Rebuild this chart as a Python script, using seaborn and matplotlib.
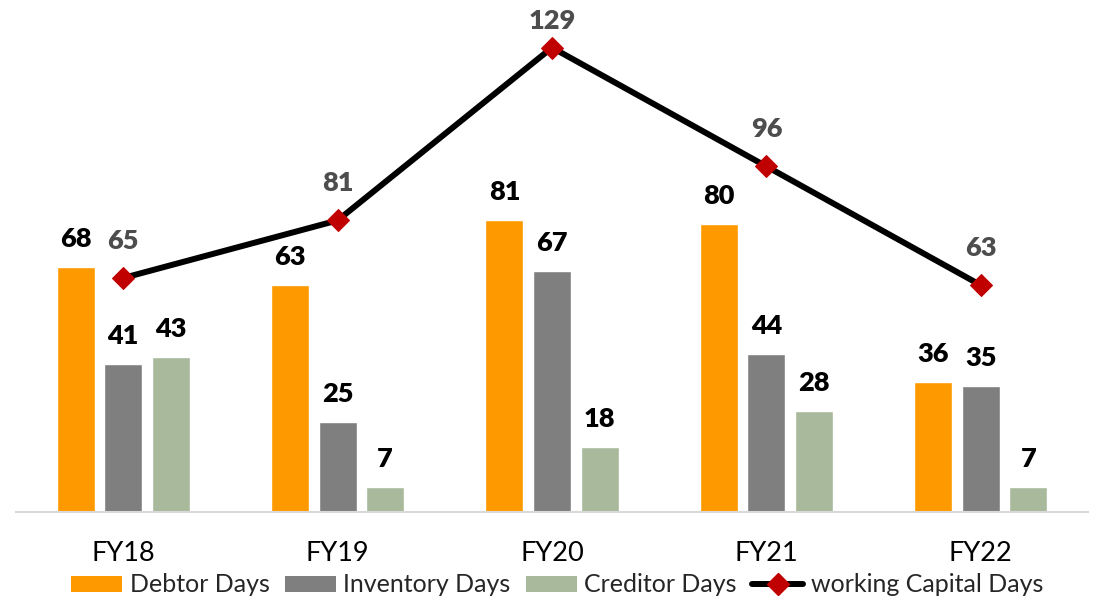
import numpy as np
import pandas as pd
import matplotlib
matplotlib.use("Agg")
import matplotlib.pyplot as plt
from matplotlib.patches import Patch
from matplotlib.lines import Line2D
import seaborn as sns

categories = ["FY18", "FY19", "FY20", "FY21", "FY22"]
debtor_days = [68, 63, 81, 80, 36]
inventory_days = [41, 25, 67, 44, 35]
creditor_days = [43, 7, 18, 28, 7]
working_capital_days = [65, 81, 129, 96, 63]
series_names = ["Debtor Days", "Inventory Days", "Creditor Days"]
line_name = "working Capital Days"

colors = ["#FF9900", "#7F7F7F", "#A9B99C"]
line_color = "black"
marker_color = "#C00000"

sns.set_theme(style="white")
plt.rcParams["font.family"] = ["Lato", "DejaVu Sans"]

df = pd.DataFrame({
    "cat": categories * 3,
    "series": sum([[n] * len(categories) for n in series_names], []),
    "value": debtor_days + inventory_days + creditor_days,
})

fig = plt.figure(figsize=(10.95, 6.02), dpi=100)
ax = fig.add_axes([16 / 1095, 90 / 602, 1072 / 1095, 512 / 602])

sns.barplot(data=df, x="cat", y="value", hue="series", order=categories,
            hue_order=series_names, palette=colors, width=0.665, gap=0.2,
            saturation=1, legend=False, ax=ax, errorbar=None)

xpos = np.arange(len(categories))
sns.lineplot(x=xpos, y=working_capital_days, color=line_color, linewidth=4.3,
             marker="D", markersize=11, markerfacecolor=marker_color,
             markeredgecolor=marker_color, ax=ax, zorder=5)

ymax = 512 / 3.6
ax.set_xlim(-0.5, len(categories) - 0.5)
ax.set_ylim(0, ymax)

for cont in ax.containers:
    for rect in cont:
        h = rect.get_height()
        ax.annotate(f"{h:.0f}", (rect.get_x() + rect.get_width() / 2, h),
                    xytext=(0, 14.4), textcoords="offset points",
                    ha="center", va="baseline", fontsize=19.5,
                    fontweight="heavy", color="black")

for x, v in zip(xpos, working_capital_days):
    ty = min(v + 29 / 3.6, ymax - 29 / 3.6)
    ax.text(x, ty, f"{v}", ha="center", va="baseline", fontsize=19.5,
            fontweight="heavy", color="#4D4D4D")

for s in ["top", "left", "right"]:
    ax.spines[s].set_visible(False)
ax.spines["bottom"].set_color("#D9D9D9")
ax.spines["bottom"].set_linewidth(1.5)
ax.set_yticks([])
ax.set_xlabel("")
ax.set_ylabel("")
ax.tick_params(axis="x", length=0, pad=21, labelsize=19.5, labelcolor="black")

handles = [Patch(facecolor=c, edgecolor="none") for c in colors]
handles.append(Line2D([0], [0], color=line_color, lw=4.3, marker="D",
                      markersize=11, markerfacecolor=marker_color,
                      markeredgecolor=marker_color))
fig.legend(handles, series_names + [line_name], loc="center",
           bbox_to_anchor=(557 / 1095, 1 - 585 / 602), ncol=4, frameon=False,
           fontsize=18, handlelength=2.05, handleheight=0.6,
           handletextpad=0.3, columnspacing=0.6, borderpad=0, borderaxespad=0)

fig.savefig("out.png", dpi=100)
